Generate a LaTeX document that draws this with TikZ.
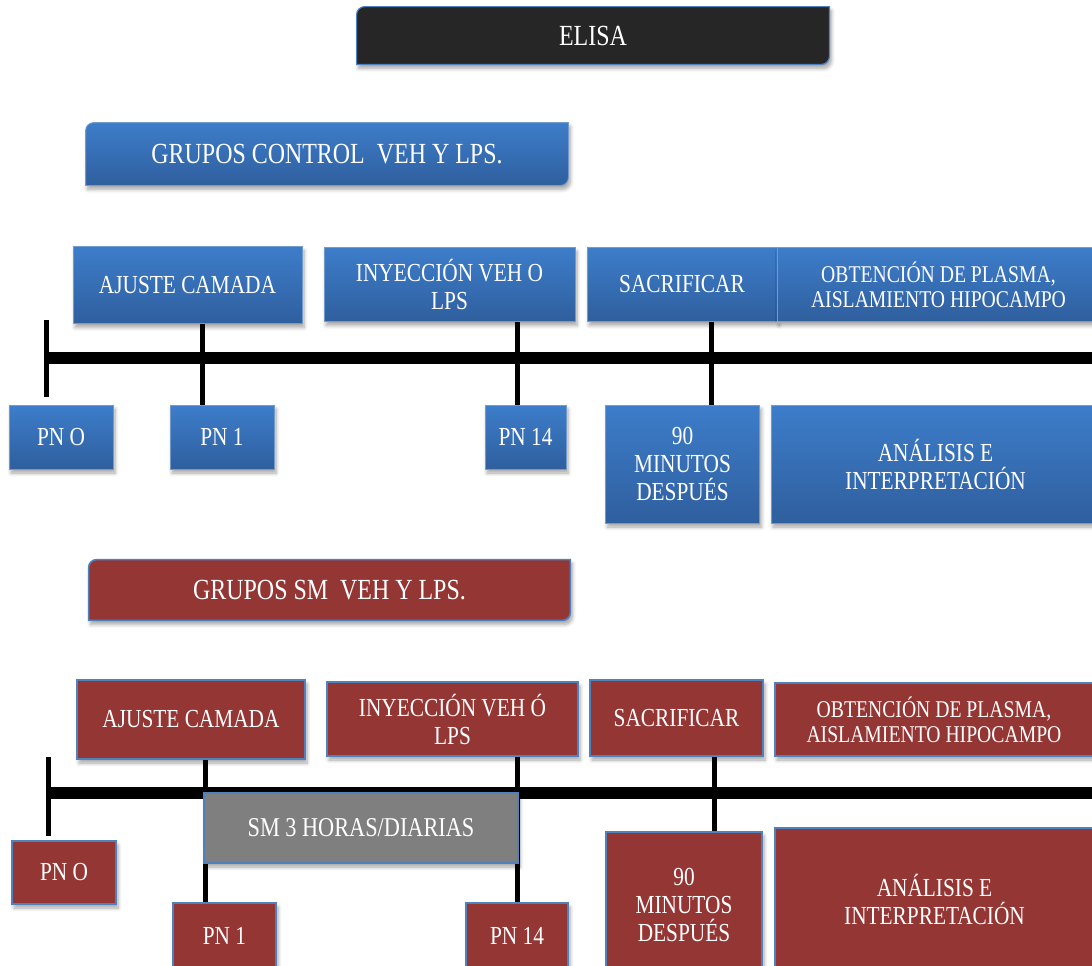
\documentclass[tikz,border=0pt]{standalone}
\usepackage{fontspec}
\setmainfont{Liberation Serif}[FakeStretch=0.82]
\usetikzlibrary{shadows.blur,backgrounds}

\definecolor{bluetop}{RGB}{61,125,202}
\definecolor{bluebot}{RGB}{47,95,158}
\definecolor{boxred}{RGB}{148,54,52}
\definecolor{boxgray}{RGB}{127,127,127}
\definecolor{edgeblue}{RGB}{79,129,189}
\definecolor{boxblack}{RGB}{38,38,38}

\tikzset{
  boxshadow/.style={blur shadow={shadow xshift=1pt, shadow yshift=-2pt, shadow opacity=35, shadow blur steps=6}},
  base/.style={rectangle, inner sep=0pt, align=center, text=white, font=\fontsize{13}{14}\selectfont, boxshadow},
  bluebox/.style={base, top color=bluetop, bottom color=bluebot, draw=edgeblue!80, line width=0.4pt},
  redbox/.style={base, fill=boxred, draw=edgeblue, line width=0.8pt},
  graybox/.style={base, fill=boxgray, draw=edgeblue, line width=0.8pt, font=\fontsize{13.6}{14}\selectfont},
  smalltext/.style={font=\fontsize{12}{12.5}\selectfont},
  titletext/.style={rectangle, inner sep=0pt, text=white, font=\fontsize{14.6}{15}\selectfont},
  blacktitle/.style={fill=boxblack, draw=edgeblue, line width=0.6pt, boxshadow},
  bluetitle/.style={top color=bluetop, bottom color=bluebot, draw=edgeblue!80, line width=0.4pt, boxshadow},
  redtitle/.style={fill=boxred, draw=edgeblue, line width=0.8pt, boxshadow},
  timeline/.style={line width=6pt},
  tick/.style={line width=2.5pt},
}

\begin{document}
\begin{tikzpicture}[x=0.5pt,y=-0.5pt]
\useasboundingbox (0,0) rectangle (1092,965);
\clip (0,0) rectangle (1092,965);

% titles
\node[titletext, minimum width=236pt, minimum height=28.5pt] (elisa) at (593,35.5) {ELISA};
\node[titletext, minimum width=241pt, minimum height=31pt] (gctrl) at (327,154) {GRUPOS CONTROL \ VEH Y LPS.};
\node[titletext, minimum width=240.5pt, minimum height=30pt] (gsm) at (329.5,590) {GRUPOS SM \ VEH Y LPS.};

% control groups
\node[bluebox, minimum width=114.5pt, minimum height=38.5pt] (ajusteA) at (187.5,285) {AJUSTE CAMADA};
\node[bluebox, minimum width=125.5pt, minimum height=37pt] (inyA) at (449.5,284.5) {INYECCIÓN VEH O\\LPS};
\node[bluebox, minimum width=95pt, minimum height=37pt] (sacrA) at (682,284.5) {SACRIFICAR};
\node[bluebox, smalltext, minimum width=161.5pt, minimum height=37pt] (obtA) at (938.5,284.5) {OBTENCIÓN DE PLASMA,\\AISLAMIENTO HIPOCAMPO};
\node[bluebox, minimum width=52pt, minimum height=32pt] (pn0A) at (61,437) {PN O};
\node[bluebox, minimum width=52pt, minimum height=32pt] (pn1A) at (222,437) {PN 1};
\node[bluebox, minimum width=40.5pt, minimum height=32pt] (pn14A) at (525.5,437) {PN 14};
\node[bluebox, minimum width=77pt, minimum height=59pt] (minA) at (682.5,464) {90\\MINUTOS\\DESPUÉS};
\node[bluebox, minimum width=164.5pt, minimum height=59pt] (analA) at (935.5,464) {ANÁLISIS E\\INTERPRETACIÓN};

% SM groups
\node[redbox, minimum width=114pt, minimum height=39.5pt] (ajusteB) at (191,719.5) {AJUSTE CAMADA};
\node[redbox, minimum width=125.5pt, minimum height=37pt] (inyB) at (452.5,719) {INYECCIÓN VEH Ó\\LPS};
\node[redbox, minimum width=86.5pt, minimum height=38pt] (sacrB) at (676.5,718) {SACRIFICAR};
\node[redbox, smalltext, minimum width=159pt, minimum height=36.5pt] (obtB) at (934,719.5) {OBTENCIÓN DE PLASMA,\\AISLAMIENTO HIPOCAMPO};
\node[redbox, minimum width=52pt, minimum height=31.5pt] (pn0B) at (64,872.5) {PN O};
\node[redbox, minimum width=51.5pt, minimum height=33pt] (pn1B) at (224.5,936) {PN 1};
\node[redbox, minimum width=51pt, minimum height=33pt] (pn14B) at (517,936) {PN 14};
\node[redbox, minimum width=78pt, minimum height=73pt] (minB) at (684,905) {90\\MINUTOS\\DESPUÉS};
\node[redbox, minimum width=159.5pt, minimum height=71pt] (analB) at (934.5,899) {ANÁLISIS E\\INTERPRETACIÓN};
\node[graybox, minimum width=157pt, minimum height=35pt] (smB) at (361,828) {SM 3 HORAS/DIARIAS};

% timelines
\coordinate (lA0) at (44,358);
\coordinate (lA1) at (1100,358);
\coordinate (tA0) at (46,320);
\coordinate (tA0e) at (46,397);
\coordinate (tA1) at (202,358);
\coordinate (tA2) at (517,358);
\coordinate (tA3) at (711,358);
\coordinate (lB0) at (46,793);
\coordinate (lB1) at (1100,793);
\coordinate (tB0) at (48,757);
\coordinate (tB0e) at (48,836);
\coordinate (tB1) at (205,793);
\coordinate (tB2) at (517,793);
\coordinate (tB3) at (714,793);

\begin{scope}[on background layer]
\path[blacktitle] (elisa.north east) [rounded corners=4pt] -- (elisa.south east) [sharp corners] -- (elisa.south west) [rounded corners=4pt] -- (elisa.north west) [sharp corners] -- cycle;
\path[bluetitle] (gctrl.north east) [rounded corners=4pt] -- (gctrl.south east) [sharp corners] -- (gctrl.south west) [rounded corners=4pt] -- (gctrl.north west) [sharp corners] -- cycle;
\path[redtitle] (gsm.north east) [rounded corners=4pt] -- (gsm.south east) [sharp corners] -- (gsm.south west) [rounded corners=4pt] -- (gsm.north west) [sharp corners] -- cycle;

\draw[timeline] (lA0) -- (lA1);
\draw[tick] (tA0) -- (tA0e);
\draw[tick] (ajusteA.south -| tA1) -- (pn1A.north -| tA1);
\draw[tick] (inyA.south -| tA2) -- (pn14A.north -| tA2);
\draw[tick] (sacrA.south -| tA3) -- (minA.north -| tA3);

\draw[timeline] (lB0) -- (lB1);
\draw[tick] (tB0) -- (tB0e);
\draw[tick] (ajusteB.south -| tB1) -- (pn1B.north -| tB1);
\draw[tick] (inyB.south -| tB2) -- (pn14B.north -| tB2);
\draw[tick] (sacrB.south -| tB3) -- (minB.north -| tB3);
\end{scope}
\end{tikzpicture}
\end{document}
